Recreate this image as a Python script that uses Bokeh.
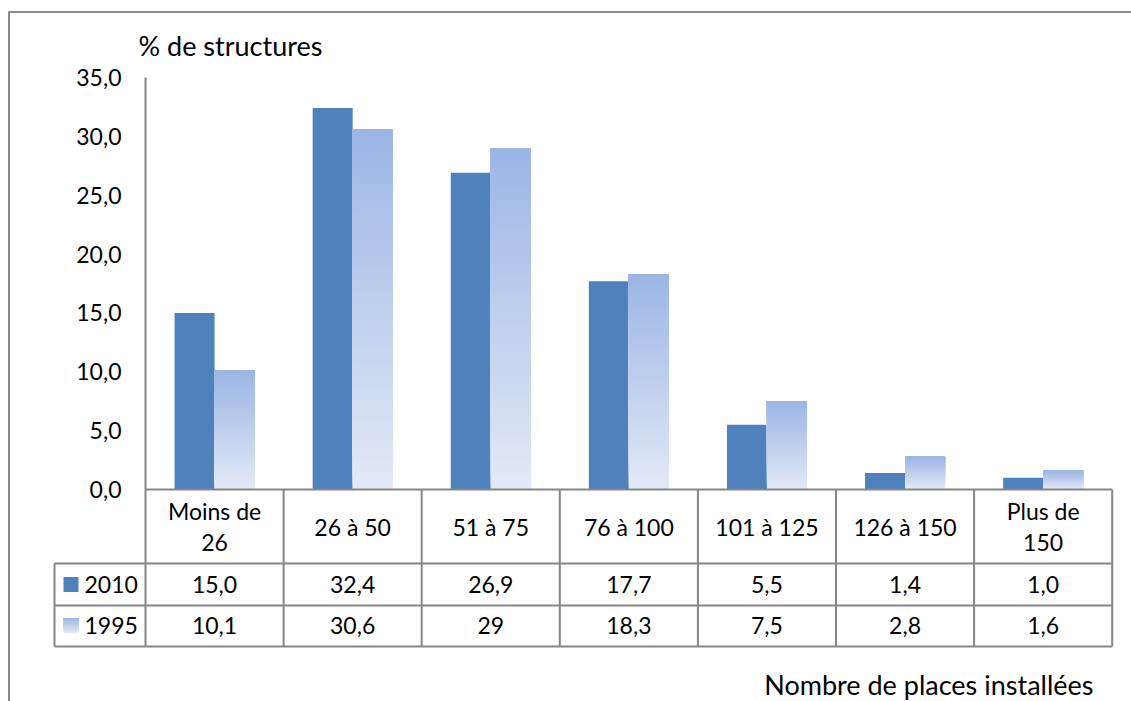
from bokeh.plotting import figure
from bokeh.models import Range1d
from bokeh.embed import file_html
from bokeh.resources import INLINE
from bokeh.core.properties import value

# ---------------- data ----------------
categories = ["Moins de\n26", "26 à 50", "51 à 75", "76 à 100", "101 à 125", "126 à 150", "Plus de\n150"]
series_names = ["2010", "1995"]
values_2010 = [15.0, 32.4, 26.9, 17.7, 5.5, 1.4, 1.0]
values_1995 = [10.1, 30.6, 29.0, 18.3, 7.5, 2.8, 1.6]
labels_2010 = ["15,0", "32,4", "26,9", "17,7", "5,5", "1,4", "1,0"]
labels_1995 = ["10,1", "30,6", "29", "18,3", "7,5", "2,8", "1,6"]
y_ticks = [0, 5, 10, 15, 20, 25, 30, 35]
y_tick_labels = ["0,0", "5,0", "10,0", "15,0", "20,0", "25,0", "30,0", "35,0"]
y_title = "% de structures"
x_title = "Nombre de places installées"

# ---------------- layout (pixels) ----------------
W, H = 1131, 701
PX0 = 145.0      # pixel of category 0 left edge
CW = 138.1       # pixels per category
PY0 = 489.0      # pixel of value 0
YS = 11.771      # pixels per value unit

def xd(px):
    return (px - PX0) / CW

def yd(py):
    return (PY0 - py) / YS

FONT = value("Lato")
FS = "23px"
FS_T = "27px"
GRID = "#868686"
C2010 = "#4F81BD"
TOP_1995 = (0x9B, 0xB5, 0xE5)
BOT_1995 = (0xE3, 0xE9, 0xF6)

def mix(t):
    r = [round(BOT_1995[j] + (TOP_1995[j] - BOT_1995[j]) * t) for j in range(3)]
    return "#%02x%02x%02x" % tuple(r)

p = figure(width=W, height=H, output_backend="svg", toolbar_location=None,
           x_axis_location=None, y_axis_location=None,
           x_range=Range1d(xd(0), xd(W)), y_range=Range1d(yd(H), yd(0)),
           min_border=0, outline_line_color=None)
p.grid.visible = False
p.background_fill_color = "white"

n = len(categories)
BW = 40.0 / CW
OFF = 20.0 / CW

# chart border (top & left visible)
p.segment(x0=[xd(8), xd(8.5)], y0=[yd(11.5), yd(11)], x1=[xd(W), xd(8.5)], y1=[yd(11.5), yd(H)],
          line_color="#8A8A8A", line_width=2)

# 2010 bars
xs2010 = [i + 0.5 - OFF for i in range(n)]
p.vbar(x=xs2010, width=BW, top=values_2010, bottom=0, fill_color=C2010, line_color=None)

# 1995 bars with vertical gradient (overlapping slices, painted bottom to top)
N = 60
L, R, B, T, Cs = [], [], [], [], []
for k in range(N):
    for i, v in enumerate(values_1995):
        xc = i + 0.5 + OFF
        L.append(xc - BW / 2)
        R.append(xc + BW / 2)
        B.append(v * k / N)
        T.append(v)
        Cs.append(mix((k + 0.5) / N))
p.quad(left=L, right=R, bottom=B, top=T, fill_color=Cs, line_color=None)

# axis line and table grid
r_head = yd(563)
r_1 = yd(605)
r_2 = yd(646)
leg_left = xd(54)
x0s, y0s, x1s, y1s = [], [], [], []
x0s.append(0); y0s.append(0); x1s.append(0); y1s.append(y_ticks[-1])
x0s.append(0); y0s.append(0); x1s.append(n); y1s.append(0)
for yy in [r_head, r_1, r_2]:
    x0s.append(leg_left); y0s.append(yy); x1s.append(n); y1s.append(yy)
for e in range(n + 1):
    x0s.append(e); y0s.append(0); x1s.append(e); y1s.append(r_2)
x0s.append(leg_left); y0s.append(r_head); x1s.append(leg_left); y1s.append(r_2)
p.segment(x0=x0s, y0=y0s, x1=x1s, y1=y1s, line_color=GRID, line_width=2)

# tick labels
p.text(x=[xd(121)] * len(y_ticks), y=y_ticks, text=y_tick_labels, text_font=FONT,
       text_font_size=FS, text_align="right", text_baseline="middle", text_color="black")

# category headers
p.text(x=[i + 0.5 for i in range(n)], y=[yd(526)] * n, text=categories, text_font=FONT,
       text_font_size=FS, text_align="center", text_baseline="middle", text_color="black",
       text_line_height=1.08)

# table values
p.text(x=[i + 0.5 for i in range(n)], y=[yd(584)] * n, text=labels_2010, text_font=FONT,
       text_font_size=FS, text_align="center", text_baseline="middle", text_color="black")
p.text(x=[i + 0.5 for i in range(n)], y=[yd(625)] * n, text=labels_1995, text_font=FONT,
       text_font_size=FS, text_align="center", text_baseline="middle", text_color="black")

# legend keys
p.quad(left=[xd(63)], right=[xd(78)], bottom=[yd(591.5)], top=[yd(576.5)], fill_color=C2010, line_color=None)
LN = 15
p.quad(left=[xd(63)] * LN, right=[xd(78)] * LN,
       bottom=[yd(632.5 - k) for k in range(LN)], top=[yd(617.5)] * LN,
       fill_color=[mix((k + 0.5) / LN) for k in range(LN)], line_color=None)
p.text(x=[xd(84)] * 2, y=[yd(584), yd(625)], text=series_names, text_font=FONT,
       text_font_size=FS, text_align="left", text_baseline="middle", text_color="black")

# titles
p.text(x=[xd(138)], y=[yd(45)], text=[y_title], text_font=FONT, text_font_size=FS_T,
       text_align="left", text_baseline="middle", text_color="black")
p.text(x=[xd(1093)], y=[yd(684)], text=[x_title], text_font=FONT, text_font_size=FS_T,
       text_align="right", text_baseline="middle", text_color="black")

open("out.html", "w").write(file_html(p, INLINE))
